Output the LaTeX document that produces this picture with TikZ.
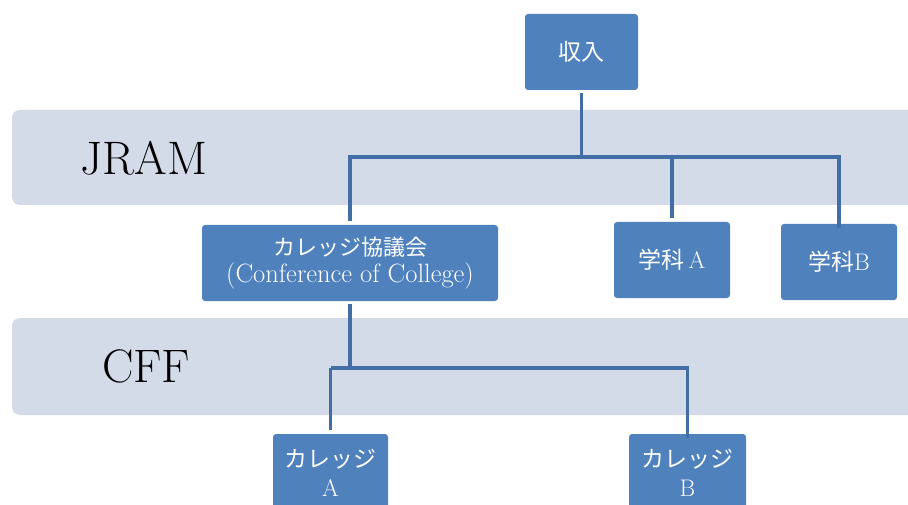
\documentclass[tikz,border=0pt]{standalone}
\usepackage{fontspec}
\newfontfamily\jp{Noto Sans CJK JP}[Scale=1]
\definecolor{boxblue}{RGB}{79,129,189}
\definecolor{linecol}{RGB}{66,110,165}
\definecolor{band}{RGB}{211,219,232}
\begin{document}
\begin{tikzpicture}[x=1pt,y=-1pt,
  orgbox/.style={fill=boxblue, rounded corners=3pt, text=white, align=center,
     inner sep=0pt, font=\fontsize{24}{28}\selectfont},
  conn/.style={draw=linecol, line width=3.5pt},
  bandbox/.style={fill=band, rounded corners=8pt},
  bandlabel/.style={font=\fontsize{47}{50}\selectfont, text=black, inner sep=0pt}]
\useasboundingbox (0,0) rectangle (908,505);
\clip (0,0) rectangle (908,505);
% bands
\fill[bandbox] (12,110) rectangle (930,205);
\fill[bandbox] (12,318) rectangle (930,415);
\node[bandlabel] (jram) at (144,158) {JRAM};
\node[bandlabel] (cff) at (146,366) {CFF};
% boxes
\node[orgbox, minimum width=113pt, minimum height=76pt] (inc) at (581.5,52) {{\jp\fontsize{23}{28}\selectfont 収入}};
\node[orgbox, minimum width=296pt, minimum height=76pt] (coll) at (350,263)
  {{\jp\fontsize{22}{26}\selectfont カレッジ協議会}\\[-1pt]{\fontsize{26.5}{26}\selectfont (Conference of College)}};
\node[orgbox, minimum width=116pt, minimum height=76pt] (dA) at (672,260) {{\jp\fontsize{23}{28}\selectfont 学科}\,A};
\node[orgbox, minimum width=116pt, minimum height=76pt] (dB) at (839,262) {{\jp\fontsize{23}{28}\selectfont 学科}B};
\node[orgbox, minimum width=115pt, minimum height=78pt] (cA) at (330.5,473) {{\jp\fontsize{23}{28}\selectfont カレッジ}\\[1pt]A};
\node[orgbox, minimum width=117pt, minimum height=78pt] (cB) at (687.5,473) {{\jp\fontsize{23}{28}\selectfont カレッジ}\\[1pt]B};
% connectors
\coordinate (j1) at (581.5,157);
\coordinate (j2) at (350,368);
\draw[conn, shorten <=3pt] (inc.south) -- (j1);
\draw[conn, shorten <=4pt] (coll.north) -- (coll.north |- j1) -- (dB.north |- j1) -- ([yshift=-4pt]dB.north);
\draw[conn, shorten >=4pt] (dA.north |- j1) -- (dA.north);
\draw[conn, shorten <=3pt] (coll.south) -- (j2);
\draw[conn, shorten >=4pt] (cA.north |- j2) -- (cA.north);
\draw[conn] (cA.north |- j2) -- (cB.north |- j2) -- ([yshift=-4pt]cB.north);
\end{tikzpicture}
\end{document}
